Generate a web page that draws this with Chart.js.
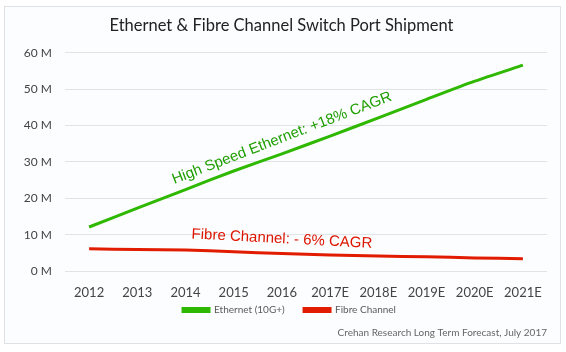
<!DOCTYPE html>
<html lang="en">
<head>
    <title>Ethernet & Fibre Channel Switch Port Shipment</title>
    <meta charset="UTF-8">
    <style>
        html, body {
            margin: 0;
            padding: 0;
            background: #ffffff;
        }
        #chart-container {
            width: 566px;
            height: 352px;
        }
    </style>
</head>
<body>
<div id="chart-container">
    <canvas id="port-plot"></canvas>
</div>
<script src="https://cdn.jsdelivr.net/npm/chart.js"></script>
<script>
    const years = ['2012', '2013', '2014', '2015', '2016', '2017E', '2018E', '2019E', '2020E', '2021E'];
    const ethernet = [12.1, 17.3, 22.4, 27.5, 32.2, 37.1, 42.1, 47.2, 52.2, 56.6];
    const fibre = [6.1, 5.9, 5.8, 5.3, 4.8, 4.4, 4.1, 3.9, 3.6, 3.4];
    const yTicks = [0, 10, 20, 30, 40, 50, 60];

    // text notes placed on the plot, anchored to category index / value
    const notes = [
        { text: 'High Speed Ethernet: +18% CAGR', x: 4, y: 36.5, angle: -21, color: '#1f9e00', size: 15 },
        { text: 'Fibre Channel: - 6% CAGR', x: 4, y: 8.8, angle: 3, color: '#dd1500', size: 15 }
    ];

    const frame = {
        id: 'frame',
        afterLayout(chart) {
            // nudge title and legend a little to the right, like the original
            chart.titleBlock.left += 8;
            chart.titleBlock.right += 8;
            chart.legend.left += 16;
            chart.legend.right += 16;
        },
        beforeDraw(chart) {
            const c = chart.ctx;
            c.save();
            c.fillStyle = '#ffffff';
            c.fillRect(0, 0, chart.width, chart.height);
            c.fillStyle = '#fbfdfe';
            c.strokeStyle = '#dde2e6';
            c.lineWidth = 1;
            c.fillRect(4.5, 6.5, 556, 337);
            c.strokeRect(4.5, 6.5, 556, 337);
            c.restore();
        }
    };

    const noteText = {
        id: 'noteText',
        afterDatasetsDraw(chart) {
            const c = chart.ctx;
            const xs = chart.scales.x;
            const ys = chart.scales.y;
            notes.forEach(n => {
                c.save();
                c.translate(xs.getPixelForValue(n.x), ys.getPixelForValue(n.y));
                c.rotate(n.angle * Math.PI / 180);
                c.font = n.size + 'px "Liberation Sans", Arial, sans-serif';
                c.fillStyle = n.color;
                c.textAlign = 'center';
                c.textBaseline = 'middle';
                c.fillText(n.text, 0, 0);
                c.restore();
            });
        }
    };

    const ctx = document.getElementById('port-plot').getContext('2d');

    const port_plot = new Chart(ctx, {
        type: 'line',
        data: {
            labels: years,
            datasets: [{
                label: 'Ethernet (10G+)',
                data: ethernet,
                borderColor: '#2fb800',
                backgroundColor: '#2fb800',
                borderWidth: 3,
                tension: 0.2,
                pointStyle: false
            }, {
                label: 'Fibre Channel',
                data: fibre,
                borderColor: '#e21c00',
                backgroundColor: '#e21c00',
                borderWidth: 3,
                tension: 0.2,
                pointStyle: false
            }]
        },
        options: {
            responsive: true,
            maintainAspectRatio: false,
            animation: false,
            layout: {
                padding: { left: 0, right: 19, top: 0, bottom: 0 }
            },
            plugins: {
                title: {
                    display: true,
                    text: 'Ethernet & Fibre Channel Switch Port Shipment',
                    color: '#222222',
                    font: { family: 'Lato', size: 16.5, weight: 'normal' },
                    padding: { top: 16, bottom: 17 }
                },
                subtitle: {
                    display: true,
                    position: 'bottom',
                    align: 'end',
                    text: 'Crehan Research Long Term Forecast, July 2017',
                    color: '#666666',
                    font: { family: 'Lato', size: 10 },
                    padding: { top: 2, bottom: 13 }
                },
                legend: {
                    position: 'bottom',
                    maxHeight: 25,
                    labels: {
                        boxWidth: 26,
                        boxHeight: 3,
                        color: '#5a5a5a',
                        font: { family: 'Lato', size: 10 },
                        padding: 4,
                        generateLabels(chart) {
                            const items = Chart.defaults.plugins.legend.labels.generateLabels(chart);
                            items[0].text = items[0].text + '      ';
                            return items;
                        }
                    }
                },
                tooltip: { enabled: false }
            },
            scales: {
                x: {
                    offset: true,
                    afterFit(scale) {
                        scale.height = 30;
                    },
                    grid: { display: false, drawTicks: false },
                    border: { display: false },
                    ticks: {
                        color: '#444444',
                        font: { family: 'Lato', size: 13 },
                        padding: 14,
                        maxRotation: 0,
                        autoSkip: false
                    }
                },
                y: {
                    min: 0,
                    max: 60,
                    afterBuildTicks(scale) {
                        scale.ticks = yTicks.map(v => ({ value: v }));
                    },
                    afterFit(scale) {
                        scale.width = 65;
                    },
                    grid: { color: '#e1e4e7', drawTicks: false },
                    border: { display: false },
                    ticks: {
                        color: '#444444',
                        font: { family: 'Lato', size: 12 },
                        padding: 13,
                        callback: v => v + ' M'
                    }
                }
            }
        },
        plugins: [frame, noteText]
    });
</script>
</body>
</html>
